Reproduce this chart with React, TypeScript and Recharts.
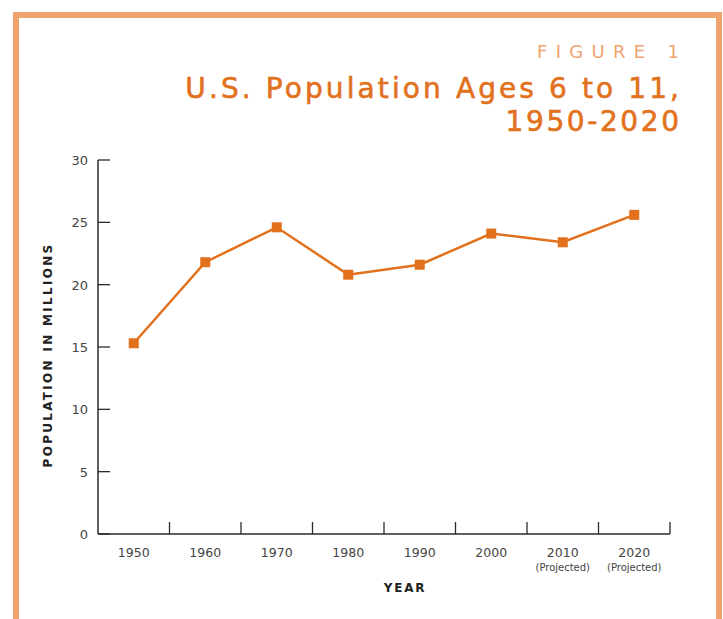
import { LineChart, Line, XAxis, YAxis } from 'recharts';

const years = ['1950', '1960', '1970', '1980', '1990', '2000', '2010', '2020'];
const population = [15.3, 21.8, 24.6, 20.8, 21.6, 24.1, 23.4, 25.6];
const projected = [false, false, false, false, false, false, true, true];
const yTicks = [0, 5, 10, 15, 20, 25, 30];

const data = years.map((year, i) => ({ year, population: population[i], projected: projected[i] }));

const ORANGE = '#E2711D';
const LIGHT_ORANGE = '#EFA46E';
const AXIS = '#2b2b2b';
const LABEL_FONT = '"DejaVu Sans", "Liberation Sans", sans-serif';
const BAND = (670 - 98) / years.length;

const XTick = (props: any) => {
  const { x, y, payload, index } = props;
  return (
    <g>
      <line x1={x + BAND / 2} x2={x + BAND / 2} y1={y} y2={y - 12} stroke={AXIS} strokeWidth={1.3} />
      <text x={x} y={y + 23} textAnchor="middle" fontSize={12.5} fill="#444" fontFamily={LABEL_FONT}>
        {payload.value}
      </text>
      {projected[index] && (
        <text x={x} y={y + 37} textAnchor="middle" fontSize={10} fill="#444" fontFamily={LABEL_FONT}>
          (Projected)
        </text>
      )}
    </g>
  );
};

const YTick = (props: any) => {
  const { x, y, payload } = props;
  return (
    <g>
      <line x1={x} x2={x + 12} y1={y} y2={y} stroke={AXIS} strokeWidth={1.3} />
      <text x={x - 10} y={y + 5} textAnchor="end" fontSize={13} fill="#444" fontFamily={LABEL_FONT}>
        {payload.value}
      </text>
    </g>
  );
};

const SquareDot = (props: any) => {
  const { cx, cy } = props;
  return <rect x={cx - 5} y={cy - 5} width={10} height={10} fill={ORANGE} />;
};

export default function App() {
  return (
    <div style={{ position: 'absolute', left: 0, top: 0, width: 723, height: 619, overflow: 'hidden', background: '#fff' }}>
      <div
        style={{
          position: 'absolute',
          left: 13,
          top: 12,
          width: 697,
          height: 640,
          border: `6px solid ${LIGHT_ORANGE}`,
        }}
      />
      <div
        style={{
          position: 'absolute',
          right: 44,
          top: 41,
          textAlign: 'right',
          fontFamily: '"DejaVu Sans", sans-serif',
        }}
      >
        <div style={{ color: LIGHT_ORANGE, fontSize: 18, letterSpacing: 8.3, marginRight: -8.3, lineHeight: '22px' }}>FIGURE 1</div>
        <div
          style={{
            color: ORANGE,
            fontSize: 28,
            lineHeight: '33px',
            marginTop: 9,
            WebkitTextStroke: `0.6px ${ORANGE}`,
          }}
        >
          <div style={{ letterSpacing: 3.1, marginRight: -3.1 }}>U.S. Population Ages 6 to 11,</div>
          <div style={{ letterSpacing: 2.6, marginRight: -2.6 }}>1950-2020</div>
        </div>
      </div>
      <div style={{ position: 'absolute', left: 0, top: 0 }}>
        <LineChart width={723} height={619} data={data} margin={{ top: 160, right: 53, bottom: 35, left: 38 }}>
          <XAxis
            dataKey="year"
            scale="band"
            height={50}
            tickLine={false}
            tickSize={0}
            tickMargin={0}
            stroke={AXIS}
            strokeWidth={1.5}
            tick={<XTick />}
            interval={0}
            label={{
              content: (p: any) => {
                const vb = p.viewBox;
                return (
                  <text
                    x={vb.x + vb.width / 2 + 21}
                    y={vb.y + 58}
                    textAnchor="middle"
                    fontSize={12}
                    fontWeight={700}
                    letterSpacing={1.8}
                    fill="#222"
                    fontFamily={LABEL_FONT}
                  >
                    YEAR
                  </text>
                );
              },
            }}
          />
          <YAxis
            domain={[0, 30]}
            ticks={yTicks}
            width={60}
            tickLine={false}
            tickSize={0}
            tickMargin={0}
            stroke={AXIS}
            strokeWidth={1.5}
            tick={<YTick />}
            interval={0}
            label={{
              content: (p: any) => {
                const vb = p.viewBox;
                const cx = vb.x + 14;
                const cy = vb.y + vb.height / 2 + 8;
                return (
                  <text
                    x={cx}
                    y={cy}
                    transform={`rotate(-90 ${cx} ${cy})`}
                    textAnchor="middle"
                    fontSize={12}
                    fontWeight={700}
                    letterSpacing={2.3}
                    fill="#222"
                    fontFamily={LABEL_FONT}
                  >
                    POPULATION IN MILLIONS
                  </text>
                );
              },
            }}
          />
          <Line
            dataKey="population"
            stroke={ORANGE}
            strokeWidth={2.5}
            dot={<SquareDot />}
            activeDot={false}
            isAnimationActive={false}
          />
        </LineChart>
      </div>
    </div>
  );
}
